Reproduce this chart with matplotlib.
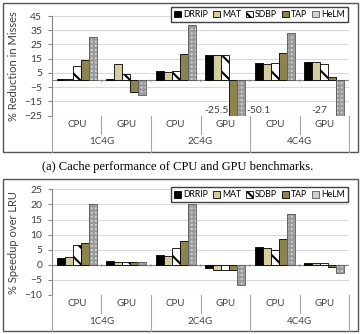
import numpy as np
import matplotlib
matplotlib.use('Agg')
import matplotlib.pyplot as plt
from matplotlib.patches import Rectangle
from matplotlib.lines import Line2D

policies = ["DRRIP", "MAT", "SDBP", "TAP", "HeLM"]
configs = ["1C4G", "2C4G", "4C4G"]
benches = ["CPU", "GPU"]

# % reduction in misses, one value per (config, bench)
miss_drrip = [0.8, 0.5, 6.2, 17.8, 11.8, 12.8]
miss_mat = [0.8, 11.6, 6.0, 17.8, 11.6, 12.8]
miss_sdbp = [9.8, 4.5, 6.2, 17.8, 11.8, 11.4]
miss_tap = [14.0, -8.1, 18.0, -25.5, 18.7, 2.1]
miss_helm = [30.0, -10.8, 39.0, -50.1, 32.8, -27.0]

# % speedup over LRU
speed_drrip = [2.2, 1.1, 3.2, -1.1, 5.8, 0.45]
speed_mat = [2.7, 1.0, 3.0, -1.6, 5.7, 0.45]
speed_sdbp = [6.7, 1.0, 5.6, -1.7, 5.0, 0.75]
speed_tap = [7.1, 1.0, 7.8, -1.8, 8.5, -0.65]
speed_helm = [20.0, 1.0, 20.0, -6.6, 16.7, -2.75]

W, H = 361, 334
BAR_W = 0.162
GRID = '#d9d9d9'
AXC = '#868686'
TXT = '#404040'

plt.rcParams['font.family'] = ['Lato', 'DejaVu Sans']
plt.rcParams['hatch.linewidth'] = 1.5


def fx(px):
    return px / W


def fy(py):
    return 1 - py / H


def draw_bars(ax, series):
    x = np.arange(len(series[0]))
    for i, vals in enumerate(series):
        xs = x + (i - 2) * BAR_W
        if i == 0:
            ax.bar(xs, vals, BAR_W, color='black', edgecolor='black', lw=0.6, zorder=3)
        elif i == 1:
            ax.bar(xs, vals, BAR_W, color='#d3cc9e', edgecolor='black', lw=0.6, zorder=3)
        elif i == 2:
            ax.bar(xs, vals, BAR_W, color='white', edgecolor='black', lw=0.6,
                   hatch='\\\\', zorder=3)
        elif i == 3:
            ax.bar(xs, vals, BAR_W, color='#8c844f', edgecolor='black', lw=0.6, zorder=3)
        else:
            ax.bar(xs, vals, BAR_W, color='#d0d0d0', edgecolor='#9a9a9a', lw=0,
                   hatch='++++', zorder=3)
            ax.bar(xs, vals, BAR_W, fill=False, edgecolor='#555555', lw=0.6, zorder=4)


def legend_handles():
    return [Rectangle((0, 0), 1, 1, fc='black', ec='black', lw=0.6),
            Rectangle((0, 0), 1, 1, fc='#d3cc9e', ec='black', lw=0.6),
            Rectangle((0, 0), 1, 1, fc='white', ec='black', lw=0.6, hatch='\\\\\\'),
            Rectangle((0, 0), 1, 1, fc='#8c844f', ec='black', lw=0.6),
            Rectangle((0, 0), 1, 1, fc='#d0d0d0', ec='#555555', lw=0.6)]


def setup_axes(ax, ylo, yhi, step, ylabel):
    ax.set_xlim(-0.5, 5.5)
    ax.set_ylim(ylo, yhi)
    ax.set_yticks(np.arange(ylo, yhi + 1, step))
    ax.yaxis.grid(True, color=GRID, lw=0.8, zorder=0)
    ax.set_axisbelow(True)
    for s in ['top', 'right', 'bottom']:
        ax.spines[s].set_visible(False)
    ax.spines['left'].set_color(AXC)
    ax.spines['left'].set_linewidth(0.8)
    ax.tick_params(axis='y', length=3, color=AXC, labelsize=7.5, labelcolor=TXT, pad=4)
    ax.tick_params(axis='x', length=0, labelbottom=False)
    ax.axhline(0, color=AXC, lw=0.8, zorder=2)
    # small category ticks on the zero line
    for b in np.arange(0.5, 5.5, 1):
        ax.annotate('', xy=(b, 0), xytext=(0, -3), textcoords='offset points',
                    xycoords='data', arrowprops=dict(arrowstyle='-', color=AXC, lw=0.8))
    ax.set_ylabel(ylabel, fontsize=8, color=TXT)
    ax.yaxis.set_label_coords(-0.111, 0.5)
    ax.legend(legend_handles(), policies, ncol=5, loc='upper right',
              fontsize=6.3, frameon=True, fancybox=False, edgecolor='#404040',
              framealpha=1, borderpad=0.35, handlelength=0.8, handleheight=0.8,
              handletextpad=0.25, columnspacing=0.55, borderaxespad=0)


def draw_table(fig, top, mid, bot, left=52, right=349):
    cw = (right - left) / 6
    line = dict(color='#a6a6a6', lw=0.8, transform=fig.transFigure)
    for k in range(7):
        x = left + k * cw
        y2 = bot if k % 2 == 0 else mid
        fig.add_artist(Line2D([fx(x), fx(x)], [fy(top), fy(y2)], **line))
    for k in range(6):
        fig.text(fx(left + (k + 0.5) * cw), fy((top + mid) / 2), benches[k % 2],
                 ha='center', va='center', fontsize=7, color=TXT)
    for g in range(3):
        fig.text(fx(left + (2 * g + 1) * cw), fy((mid + bot) / 2 - 1), configs[g],
                 ha='center', va='center', fontsize=7, color=TXT)


def frame(fig, x0, y0, x1, y1):
    fig.add_artist(Rectangle((fx(x0), fy(y1)), fx(x1) - fx(x0), fy(y0) - fy(y1),
                             transform=fig.transFigure, fill=False, ec='#555555', lw=1.0))


fig = plt.figure(figsize=(W / 100, H / 100), dpi=100)

# top: misses
ax1 = fig.add_axes([fx(52), fy(115.7), fx(349) - fx(52), fy(16) - fy(115.7)])
draw_bars(ax1, [miss_drrip, miss_mat, miss_sdbp, miss_tap, miss_helm])
setup_axes(ax1, -25, 45, 10, '% Reduction in Misses')
ax1.get_legend().set_bbox_to_anchor((0.997, 1.09))
ax1.text(3 + BAR_W * 0.5 - 0.02, -21, f"{miss_tap[3]}", ha='right', va='center',
         fontsize=7.5, color=TXT)
ax1.text(3 + BAR_W * 2.5 + 0.03, -21, f"{miss_helm[3]}", ha='left', va='center',
         fontsize=7.5, color=TXT)
ax1.text(5 + BAR_W * 0.5 - 0.02, -21, f"{miss_helm[5]:g}", ha='right', va='center',
         fontsize=7.5, color=TXT)
draw_table(fig, 115.7, 134, 151.5)
frame(fig, 3, 3, 358, 151.5)

fig.text(fx(178), fy(167), "(a) Cache performance of CPU and GPU benchmarks.",
         ha='center', va='center', fontsize=9, family='Liberation Serif')

# bottom: speedup
ax2 = fig.add_axes([fx(52), fy(295), fx(349) - fx(52), fy(189.3) - fy(295)])
draw_bars(ax2, [speed_drrip, speed_mat, speed_sdbp, speed_tap, speed_helm])
setup_axes(ax2, -10, 25, 5, '% Speedup over LRU')
ax2.get_legend().set_bbox_to_anchor((0.997, 1.02))
draw_table(fig, 295, 313, 331)
frame(fig, 3, 179.3, 358, 331)

fig.savefig('out.png', dpi=100)
